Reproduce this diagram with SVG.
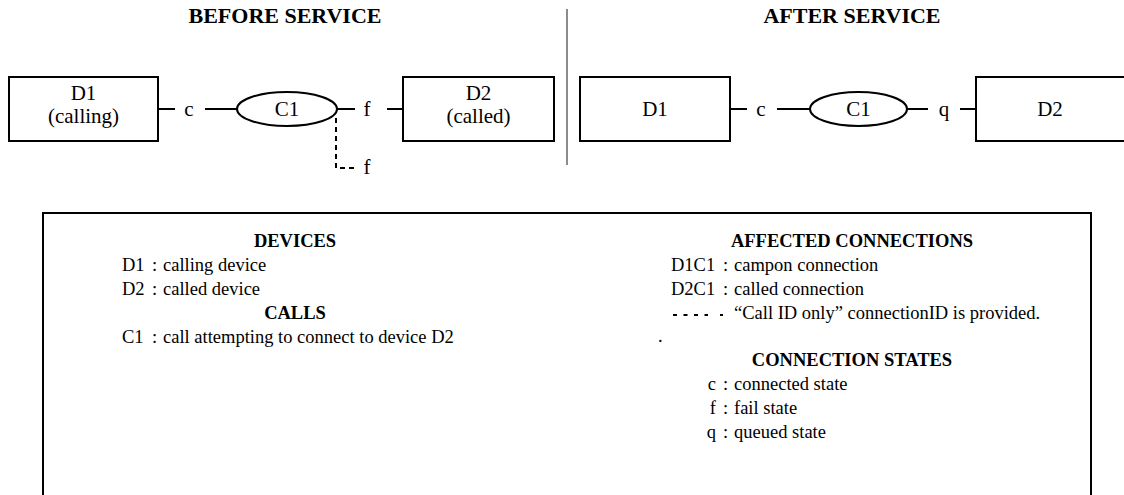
<svg xmlns="http://www.w3.org/2000/svg" width="1124" height="495" viewBox="0 0 1124 495">
<style>
  .bg{fill:#fff}
  .box{fill:#fff;stroke:#000;stroke-width:2}
  .ln{stroke:#000;stroke-width:2;fill:none}
  .dash{stroke:#000;stroke-width:2;fill:none;stroke-dasharray:5 4}
  .t{font-family:"Liberation Serif","Times New Roman",serif;fill:#000}
  .title{font-size:22px;font-weight:bold;text-anchor:middle}
  .node{font-size:21px;text-anchor:middle}
  .lbl{font-size:21px;text-anchor:middle}
  .lh{font-size:18.5px;font-weight:bold;text-anchor:middle}
  .lt{font-size:18.5px}
  .end{text-anchor:end}
</style>
<rect class="bg" x="0" y="0" width="1124" height="495"/>

<g id="titles">
  <text class="t title" x="285" y="23">BEFORE SERVICE</text>
  <text class="t title" x="852" y="23">AFTER SERVICE</text>
  <line x1="567" y1="9" x2="567" y2="165" stroke="#8c8c8c" stroke-width="2"/>
</g>

<g id="connectors">
  <line class="ln" x1="158" y1="109" x2="175" y2="109"/>
  <line class="ln" x1="205" y1="109" x2="238" y2="109"/>
  <line class="ln" x1="337" y1="109" x2="355" y2="109"/>
  <line class="ln" x1="387" y1="109" x2="403" y2="109"/>
  <path class="dash" d="M336 118 V168 H356"/>
  <line class="ln" x1="730" y1="109" x2="747" y2="109"/>
  <line class="ln" x1="777" y1="109" x2="810" y2="109"/>
  <line class="ln" x1="907" y1="109" x2="928" y2="109"/>
  <line class="ln" x1="960" y1="109" x2="976" y2="109"/>
  <text class="t lbl" x="189" y="116">c</text>
  <text class="t lbl" x="367" y="116">f</text>
  <text class="t lbl" x="367" y="174">f</text>
  <text class="t lbl" x="761" y="116">c</text>
  <text class="t lbl" x="944" y="116">q</text>
</g>

<g id="before-D1">
  <rect class="box" x="9" y="77" width="149" height="64"/>
  <text class="t node" x="83.5" y="100">D1</text>
  <text class="t node" x="83.5" y="123">(calling)</text>
</g>
<g id="before-C1">
  <ellipse class="box" cx="287" cy="109" rx="50" ry="17"/>
  <text class="t node" x="287" y="116">C1</text>
</g>
<g id="before-D2">
  <rect class="box" x="403" y="77" width="151" height="64"/>
  <text class="t node" x="478.5" y="100">D2</text>
  <text class="t node" x="478.5" y="123">(called)</text>
</g>
<g id="after-D1">
  <rect class="box" x="580" y="77" width="150" height="64"/>
  <text class="t node" x="655" y="116">D1</text>
</g>
<g id="after-C1">
  <ellipse class="box" cx="858.5" cy="109" rx="48.5" ry="17"/>
  <text class="t node" x="858.5" y="116">C1</text>
</g>
<g id="after-D2">
  <rect class="box" x="976" y="77" width="150" height="64"/>
  <text class="t node" x="1050" y="116">D2</text>
</g>

<g id="legend">
  <rect class="box" x="43" y="213" width="1048" height="300"/>
  <text class="t lh" x="295" y="247">DEVICES</text>
  <text class="t lt" x="122" y="271">D1</text>
  <text class="t lt" x="152" y="271">:</text>
  <text class="t lt" x="163" y="271">calling device</text>
  <text class="t lt" x="122" y="295">D2</text>
  <text class="t lt" x="152" y="295">:</text>
  <text class="t lt" x="163" y="295">called device</text>
  <text class="t lh" x="295" y="319">CALLS</text>
  <text class="t lt" x="122" y="343">C1</text>
  <text class="t lt" x="152" y="343">:</text>
  <text class="t lt" x="163" y="343">call attempting to connect to device D2</text>

  <text class="t lh" x="852" y="247">AFFECTED CONNECTIONS</text>
  <text class="t lt" x="671" y="271">D1C1</text>
  <text class="t lt" x="723" y="271">:</text>
  <text class="t lt" x="734" y="271">campon connection</text>
  <text class="t lt" x="671" y="295">D2C1</text>
  <text class="t lt" x="723" y="295">:</text>
  <text class="t lt" x="734" y="295">called connection</text>
  <line x1="673" y1="315" x2="708" y2="315" stroke="#000" stroke-width="2" stroke-dasharray="4 6.5"/>
  <line x1="720" y1="315" x2="723" y2="315" stroke="#000" stroke-width="2"/>
  <text class="t lt" x="734" y="319">“Call ID only” connectionID is provided.</text>
  <text class="t lt" x="658" y="342">.</text>
  <text class="t lh" x="852" y="366">CONNECTION STATES</text>
  <text class="t lt end" x="716" y="390">c</text>
  <text class="t lt" x="723" y="390">:</text>
  <text class="t lt" x="734" y="390">connected state</text>
  <text class="t lt end" x="716" y="414">f</text>
  <text class="t lt" x="723" y="414">:</text>
  <text class="t lt" x="734" y="414">fail state</text>
  <text class="t lt end" x="716" y="438">q</text>
  <text class="t lt" x="723" y="438">:</text>
  <text class="t lt" x="734" y="438">queued state</text>
</g>
</svg>
